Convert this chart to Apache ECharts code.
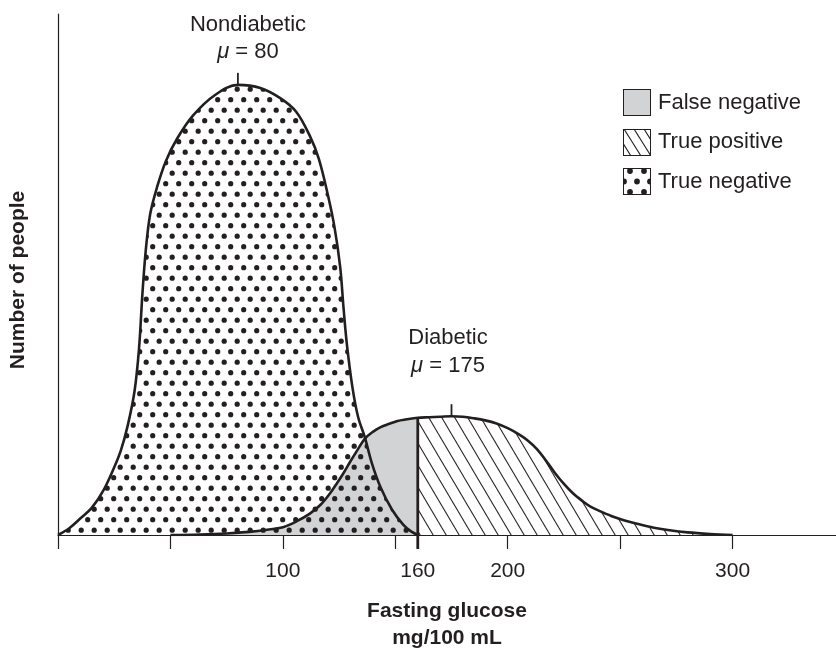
<!DOCTYPE html>
<html>
<head>
<meta charset="utf-8">
<script src="https://cdn.jsdelivr.net/npm/echarts@6/dist/echarts.min.js"></script>
<style>
  html, body { margin: 0; padding: 0; background: #fff; }
  #chart { width: 836px; height: 648px; }
</style>
</head>
<body>
<div id="chart"></div>
<script>
// Fasting glucose distributions (mg/100 mL) for nondiabetic and diabetic people
const nondiabeticGlucose = [0, 5, 10, 15, 20, 25, 28, 31, 34, 36, 37.5, 39, 41, 44, 48, 53, 60, 70, 80, 90, 99, 106, 112, 116, 120, 123, 125.5, 127, 128.5, 131, 133.5, 136.5, 139.5, 143.5, 148.5, 153.5, 157, 160];
const nondiabeticCount = [0, 1.3, 3.2, 5.2, 8.4, 13.0, 16.3, 21.0, 27.5, 35.6, 46.0, 54.5, 61.6, 66.7, 71.8, 76.1, 80.5, 84.5, 86.4, 85.8, 83.8, 81.2, 76.6, 72.2, 65.3, 59.0, 51.4, 43.5, 36.5, 28.2, 22.6, 18.7, 13.9, 9.1, 4.9, 2.0, 0.7, 0];

const diabeticGlucose = [50, 63, 75, 85, 93, 100, 106, 112, 117, 121, 124, 127, 130, 133, 136.5, 140, 143.5, 147, 151, 155, 160, 165, 170, 175, 180, 185, 190, 195, 200, 205, 209, 213, 217, 221, 225, 229, 233, 237, 242, 247, 252, 258, 265, 272, 280, 290, 300];
const diabeticCount = [0, 0.1, 0.3, 0.6, 1.0, 1.5, 2.6, 4.1, 5.9, 8.0, 9.9, 11.9, 14.1, 16.2, 18.5, 19.8, 20.7, 21.3, 21.9, 22.2, 22.5, 22.6, 22.7, 22.8, 22.7, 22.4, 22.0, 21.4, 20.5, 19.3, 18.1, 16.5, 14.3, 11.9, 9.8, 8.0, 6.6, 5.4, 4.4, 3.5, 2.8, 2.1, 1.4, 0.9, 0.5, 0.2, 0];

const cutoff = 160;
const nondiabeticMean = 80;
const diabeticMean = 175;

const xTickValues = [0, 50, 100, 150, 200, 250, 300];
const xLabelValues = [100, 160, 200, 300];

const legendNames = ['False negative', 'True positive', 'True negative'];

const INK = '#231f20';
const GREY = '#d1d3d4';
const FONT = '"Liberation Sans", Arial, Helvetica, sans-serif';

function pairs(xs, ys, keep) {
  const out = [];
  for (let i = 0; i < xs.length; i++) {
    if (!keep || keep(xs[i])) out.push([xs[i], ys[i]]);
  }
  return out;
}
function valueAt(xs, ys, x) {
  return ys[xs.indexOf(x)];
}

// Staggered dot fill
function dotCanvas() {
  const c = document.createElement('canvas');
  c.width = 13; c.height = 21;
  const g = c.getContext('2d');
  g.fillStyle = INK;
  const dots = [[3.2, 5.2], [9.7, 15.7], [-3.3, 15.7], [16.2, 15.7]];
  dots.forEach(([x, y]) => { g.beginPath(); g.arc(x, y, 2.6, 0, Math.PI * 2); g.fill(); });
  return c;
}
// Diagonal "\" hatch fill
function hatchCanvas() {
  const w = 13, h = 22;
  const c = document.createElement('canvas');
  c.width = w; c.height = h;
  const g = c.getContext('2d');
  g.strokeStyle = INK;
  g.lineWidth = 1.1;
  [[0, 0], [-w, 0], [w, 0], [0, -h], [0, h]].forEach(([ox, oy]) => {
    g.beginPath(); g.moveTo(ox, oy); g.lineTo(ox + w, oy + h); g.stroke();
  });
  return c;
}

// Key swatches (28x27, with their own frame)
function swatch(paint) {
  const c = document.createElement('canvas');
  c.width = 28; c.height = 27;
  const g = c.getContext('2d');
  g.fillStyle = '#fff'; g.fillRect(0, 0, 28, 27);
  g.save();
  g.beginPath(); g.rect(0.5, 0.5, 27, 26); g.clip();
  paint(g);
  g.restore();
  g.strokeStyle = INK; g.lineWidth = 1;
  g.strokeRect(0.5, 0.5, 27, 26);
  return c;
}
const greySwatch = swatch(g => { g.fillStyle = GREY; g.fillRect(0, 0, 28, 27); });
const hatchSwatch = swatch(g => {
  g.strokeStyle = INK; g.lineWidth = 1.1;
  for (let k = -3; k <= 3; k++) {
    g.beginPath(); g.moveTo(k * 10 + 1, 0); g.lineTo(k * 10 + 18, 27); g.stroke();
  }
});
const dotSwatch = swatch(g => {
  g.fillStyle = INK;
  const dots = [[7, 3], [21, 3], [1, 13.5], [14, 13.5], [27, 13.5], [7, 24], [21, 24]];
  dots.forEach(([x, y]) => { g.beginPath(); g.arc(x, y, 2.9, 0, Math.PI * 2); g.fill(); });
});

const dotFill = { image: dotCanvas(), repeat: 'repeat' };
const hatchFill = { image: hatchCanvas(), repeat: 'repeat' };

const chart = echarts.init(document.getElementById('chart'), null, { renderer: 'canvas' });

const keySwatches = [greySwatch, hatchSwatch, dotSwatch];
const keyGraphics = [];
legendNames.forEach((name, i) => {
  const top = 89 + i * 39.5;
  keyGraphics.push({
    type: 'image', z: 10,
    style: { image: keySwatches[i], x: 623, y: Math.round(top), width: 28, height: 27 }
  });
  keyGraphics.push({
    type: 'text', z: 10,
    style: { text: name, x: 658, y: top + 13.5, align: 'left', verticalAlign: 'middle',
             fontSize: 22, fontFamily: FONT, fill: INK }
  });
});

const muRich = { i: { fontStyle: 'italic', fontSize: 22, fontFamily: FONT, fill: INK } };

const option = {
  animation: false,
  backgroundColor: '#fff',
  textStyle: { fontFamily: FONT },
  grid: { left: 58, right: 0, top: 14, bottom: 113, containLabel: false, outerBoundsMode: 'none' },
  xAxis: {
    type: 'value', min: 0, max: 346, z: 6,
    axisLine: { lineStyle: { color: INK, width: 1.2 } },
    axisTick: { show: true, length: 14, customValues: xTickValues, lineStyle: { color: INK, width: 1.2 } },
    axisLabel: { customValues: xLabelValues, fontSize: 21, color: INK, margin: 26, fontFamily: FONT },
    splitLine: { show: false },
    name: 'Fasting glucose\nmg/100 mL',
    nameLocation: 'middle', nameGap: 63,
    nameTextStyle: { fontSize: 21, fontWeight: 'bold', lineHeight: 27, color: INK, fontFamily: FONT }
  },
  yAxis: {
    type: 'value', min: 0, max: 100,
    axisLine: { show: true, lineStyle: { color: INK, width: 1.2 } },
    axisTick: { show: false },
    axisLabel: { show: false },
    splitLine: { show: false }
  },
  series: [
    {
      name: 'False negative', type: 'line', z: 1,
      data: pairs(diabeticGlucose, diabeticCount, x => x <= cutoff),
      smooth: 0.35, symbol: 'none',
      lineStyle: { width: 0, opacity: 0 },
      areaStyle: { color: GREY, opacity: 1 }
    },
    {
      name: 'True positive', type: 'line', z: 1,
      data: pairs(diabeticGlucose, diabeticCount, x => x >= cutoff),
      smooth: 0.35, symbol: 'none',
      lineStyle: { width: 0, opacity: 0 },
      areaStyle: { color: hatchFill, opacity: 1 }
    },
    {
      name: 'True negative', type: 'line', z: 3,
      data: pairs(nondiabeticGlucose, nondiabeticCount),
      smooth: 0.35, symbol: 'none',
      lineStyle: { color: INK, width: 2.6 },
      areaStyle: { color: dotFill, opacity: 1 }
    },
    {
      name: 'Diabetic', type: 'line', z: 4,
      data: pairs(diabeticGlucose, diabeticCount),
      smooth: 0.35, symbol: 'none',
      lineStyle: { color: INK, width: 2.6 }
    },
    {
      // cut-off line, continued below the axis as a heavy tick
      name: 'Cutoff', type: 'custom', z: 7, clip: false,
      data: [[cutoff, valueAt(diabeticGlucose, diabeticCount, cutoff)]],
      encode: { x: 0, y: 1 },
      renderItem: (params, api) => {
        const top = api.coord([api.value(0), api.value(1)]);
        const base = api.coord([api.value(0), 0]);
        return { type: 'line', shape: { x1: top[0], y1: top[1], x2: base[0], y2: base[1] + 14 },
                 style: { stroke: INK, lineWidth: 2.8 } };
      }
    },
    {
      // short ticks marking each mean
      name: 'Means', type: 'custom', z: 7, clip: false,
      data: [
        [nondiabeticMean, valueAt(nondiabeticGlucose, nondiabeticCount, nondiabeticMean)],
        [diabeticMean, valueAt(diabeticGlucose, diabeticCount, diabeticMean)]
      ],
      encode: { x: 0, y: 1 },
      renderItem: (params, api) => {
        const p = api.coord([api.value(0), api.value(1)]);
        return { type: 'line', shape: { x1: p[0], y1: p[1], x2: p[0], y2: p[1] - 12 },
                 style: { stroke: INK, lineWidth: 1.8 } };
      }
    }
  ],
  graphic: [
    { type: 'text', z: 10, x: 18, y: 280, rotation: Math.PI / 2,
      style: { text: 'Number of people', x: 0, y: 0, align: 'center', verticalAlign: 'middle', fontSize: 21, fontWeight: 'bold', fontFamily: FONT, fill: INK } },
    { type: 'text', z: 10, style: { text: 'Nondiabetic', x: 248, y: 25, align: 'center', verticalAlign: 'middle', fontSize: 22, fontFamily: FONT, fill: INK } },
    { type: 'text', z: 10, style: { text: '{i|\u03bc} = ' + nondiabeticMean, rich: muRich, x: 248, y: 52, align: 'center', verticalAlign: 'middle', fontSize: 22, fontFamily: FONT, fill: INK } },
    { type: 'text', z: 10, style: { text: 'Diabetic', x: 448, y: 338, align: 'center', verticalAlign: 'middle', fontSize: 22, fontFamily: FONT, fill: INK } },
    { type: 'text', z: 10, style: { text: '{i|\u03bc} = ' + diabeticMean, rich: muRich, x: 448, y: 366, align: 'center', verticalAlign: 'middle', fontSize: 22, fontFamily: FONT, fill: INK } }
  ].concat(keyGraphics)
};

chart.setOption(option);
</script>
</body>
</html>
